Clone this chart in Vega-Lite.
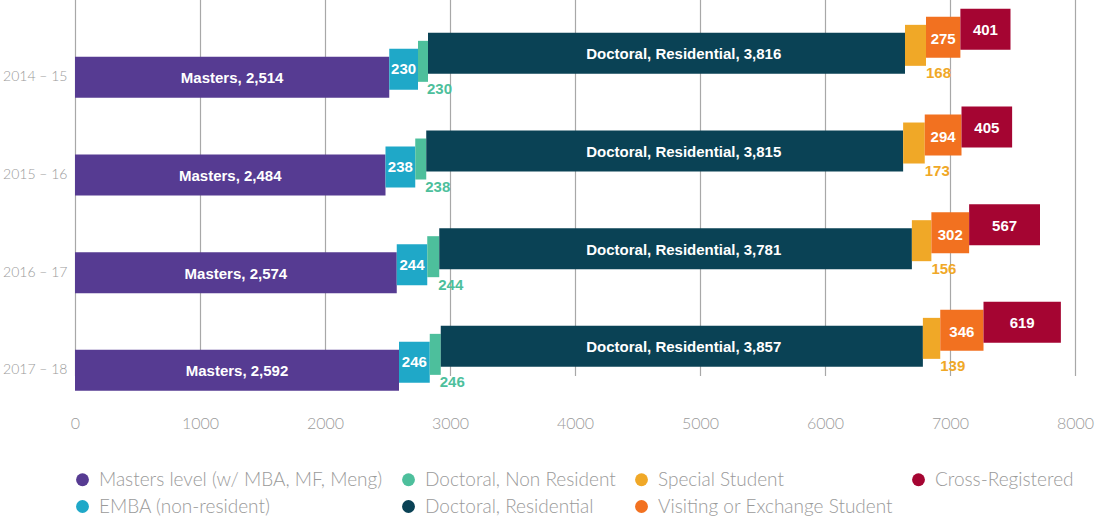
{
  "$schema": "https://vega.github.io/schema/vega-lite/v6.json",
  "width": 1000,
  "height": 390,
  "autosize": {"type": "none"},
  "padding": {"left": 75, "top": 7, "right": 26, "bottom": 122},
  "background": "white",
  "data": {"values": [
    {"year": "2014 – 15", "series": "Masters level (w/ MBA, MF, Meng)", "order": 1, "value": 2514, "label": "Masters, 2,514"},
    {"year": "2014 – 15", "series": "EMBA (non-resident)", "order": 2, "value": 230, "label": "230"},
    {"year": "2014 – 15", "series": "Doctoral, Non Resident", "order": 3, "value": 80, "label": "230"},
    {"year": "2014 – 15", "series": "Doctoral, Residential", "order": 4, "value": 3816, "label": "Doctoral, Residential, 3,816"},
    {"year": "2014 – 15", "series": "Special Student", "order": 5, "value": 168, "label": "168"},
    {"year": "2014 – 15", "series": "Visiting or Exchange Student", "order": 6, "value": 275, "label": "275"},
    {"year": "2014 – 15", "series": "Cross-Registered", "order": 7, "value": 401, "label": "401"},
    {"year": "2015 – 16", "series": "Masters level (w/ MBA, MF, Meng)", "order": 1, "value": 2484, "label": "Masters, 2,484"},
    {"year": "2015 – 16", "series": "EMBA (non-resident)", "order": 2, "value": 238, "label": "238"},
    {"year": "2015 – 16", "series": "Doctoral, Non Resident", "order": 3, "value": 88, "label": "238"},
    {"year": "2015 – 16", "series": "Doctoral, Residential", "order": 4, "value": 3815, "label": "Doctoral, Residential, 3,815"},
    {"year": "2015 – 16", "series": "Special Student", "order": 5, "value": 173, "label": "173"},
    {"year": "2015 – 16", "series": "Visiting or Exchange Student", "order": 6, "value": 294, "label": "294"},
    {"year": "2015 – 16", "series": "Cross-Registered", "order": 7, "value": 405, "label": "405"},
    {"year": "2016 – 17", "series": "Masters level (w/ MBA, MF, Meng)", "order": 1, "value": 2574, "label": "Masters, 2,574"},
    {"year": "2016 – 17", "series": "EMBA (non-resident)", "order": 2, "value": 244, "label": "244"},
    {"year": "2016 – 17", "series": "Doctoral, Non Resident", "order": 3, "value": 96, "label": "244"},
    {"year": "2016 – 17", "series": "Doctoral, Residential", "order": 4, "value": 3781, "label": "Doctoral, Residential, 3,781"},
    {"year": "2016 – 17", "series": "Special Student", "order": 5, "value": 156, "label": "156"},
    {"year": "2016 – 17", "series": "Visiting or Exchange Student", "order": 6, "value": 302, "label": "302"},
    {"year": "2016 – 17", "series": "Cross-Registered", "order": 7, "value": 567, "label": "567"},
    {"year": "2017 – 18", "series": "Masters level (w/ MBA, MF, Meng)", "order": 1, "value": 2592, "label": "Masters, 2,592"},
    {"year": "2017 – 18", "series": "EMBA (non-resident)", "order": 2, "value": 246, "label": "246"},
    {"year": "2017 – 18", "series": "Doctoral, Non Resident", "order": 3, "value": 88, "label": "246"},
    {"year": "2017 – 18", "series": "Doctoral, Residential", "order": 4, "value": 3857, "label": "Doctoral, Residential, 3,857"},
    {"year": "2017 – 18", "series": "Special Student", "order": 5, "value": 139, "label": "139"},
    {"year": "2017 – 18", "series": "Visiting or Exchange Student", "order": 6, "value": 346, "label": "346"},
    {"year": "2017 – 18", "series": "Cross-Registered", "order": 7, "value": 619, "label": "619"}
  ]},
  "transform": [
    {"stack": "value", "groupby": ["year"], "sort": [{"field": "order", "order": "ascending"}], "as": ["x0", "x1"]},
    {"fold": ["x0", "x1"], "as": ["edge", "pos"]},
    {"aggregate": [
      {"op": "min", "field": "pos", "as": "start"},
      {"op": "max", "field": "pos", "as": "end"},
      {"op": "mean", "field": "pos", "as": "mid"}
    ], "groupby": ["year", "series", "label"]}
  ],
  "encoding": {
    "y": {
      "field": "year", "type": "nominal", "title": null,
      "sort": ["2014 – 15", "2015 – 16", "2016 – 17", "2017 – 18"],
      "scale": {"range": [21.5, 412.2], "paddingInner": 0, "paddingOuter": 0}
    },
    "x": {
      "field": "start", "type": "quantitative", "title": null,
      "scale": {"domain": [0, 8000], "nice": false},
      "axis": {"values": [0, 1000, 2000, 3000, 4000, 5000, 6000, 7000, 8000], "format": "d", "labelFlush": false}
    },
    "x2": {"field": "end"},
    "color": {
      "field": "series", "type": "nominal",
      "scale": {
        "domain": ["Masters level (w/ MBA, MF, Meng)", "EMBA (non-resident)", "Doctoral, Non Resident", "Doctoral, Residential", "Special Student", "Visiting or Exchange Student", "Cross-Registered"],
        "range": ["#563b92", "#1fa8c8", "#4dbf9c", "#0a4255", "#f0a827", "#f27120", "#a50532"]
      },
      "legend": {
        "orient": "none", "legendX": -2, "legendY": 463, "columns": 4,
        "columnPadding": 16, "rowPadding": 7, "symbolType": "circle", "symbolSize": 165,
        "labelFontSize": 19, "labelFont": "Lato", "labelFontWeight": 300, "labelColor": "#9a9a9a",
        "labelOffset": 7, "title": null, "padding": 0, "labelLimit": 400, "symbolStrokeWidth": 0,
        "symbolOpacity": 1
      }
    }
  },
  "layer": [
    {"transform": [{"filter": "datum.series === 'Masters level (w/ MBA, MF, Meng)'"}], "mark": {"type": "bar", "height": 41, "yOffset": 0}},
    {"transform": [{"filter": "datum.series === 'EMBA (non-resident)'"}], "mark": {"type": "bar", "height": 41, "yOffset": -8}},
    {"transform": [{"filter": "datum.series === 'Doctoral, Non Resident'"}], "mark": {"type": "bar", "height": 41, "yOffset": -16}},
    {"transform": [{"filter": "datum.series === 'Doctoral, Residential'"}], "mark": {"type": "bar", "height": 41, "yOffset": -24}},
    {"transform": [{"filter": "datum.series === 'Special Student'"}], "mark": {"type": "bar", "height": 41, "yOffset": -32}},
    {"transform": [{"filter": "datum.series === 'Visiting or Exchange Student'"}], "mark": {"type": "bar", "height": 41, "yOffset": -40}},
    {"transform": [{"filter": "datum.series === 'Cross-Registered'"}], "mark": {"type": "bar", "height": 41, "yOffset": -48}},
    {"transform": [{"filter": "datum.series === 'Masters level (w/ MBA, MF, Meng)'"}],
     "mark": {"type": "text", "yOffset": 1, "align": "center", "baseline": "middle"},
     "encoding": {"x": {"field": "mid", "type": "quantitative", "title": null}, "x2": null, "text": {"field": "label"}, "color": {"value": "#ffffff"}}},
    {"transform": [{"filter": "datum.series === 'EMBA (non-resident)'"}],
     "mark": {"type": "text", "yOffset": -8, "align": "center", "baseline": "middle"},
     "encoding": {"x": {"field": "mid", "type": "quantitative", "title": null}, "x2": null, "text": {"field": "label"}, "color": {"value": "#ffffff"}}},
    {"transform": [{"filter": "datum.series === 'Doctoral, Non Resident'"}],
     "mark": {"type": "text", "yOffset": 12, "align": "left", "baseline": "middle", "dx": -1},
     "encoding": {"x": {"field": "end", "type": "quantitative", "title": null}, "x2": null, "text": {"field": "label"}, "color": {"value": "#4dbf9c"}}},
    {"transform": [{"filter": "datum.series === 'Doctoral, Residential'"}],
     "mark": {"type": "text", "yOffset": -23, "align": "center", "baseline": "middle"},
     "encoding": {"x": {"datum": 4870, "type": "quantitative", "title": null}, "x2": null, "text": {"field": "label"}, "color": {"value": "#ffffff"}}},
    {"transform": [{"filter": "datum.series === 'Special Student'"}],
     "mark": {"type": "text", "yOffset": -4, "align": "left", "baseline": "middle", "dx": 0},
     "encoding": {"x": {"field": "end", "type": "quantitative", "title": null}, "x2": null, "text": {"field": "label"}, "color": {"value": "#f0a827"}}},
    {"transform": [{"filter": "datum.series === 'Visiting or Exchange Student'"}],
     "mark": {"type": "text", "yOffset": -38, "align": "center", "baseline": "middle"},
     "encoding": {"x": {"field": "mid", "type": "quantitative", "title": null}, "x2": null, "text": {"field": "label"}, "color": {"value": "#ffffff"}}},
    {"transform": [{"filter": "datum.series === 'Cross-Registered'"}],
     "mark": {"type": "text", "yOffset": -47, "align": "center", "baseline": "middle"},
     "encoding": {"x": {"field": "mid", "type": "quantitative", "title": null}, "x2": null, "text": {"field": "label"}, "color": {"value": "#ffffff"}}}
  ],
  "config": {
    "view": {"stroke": null},
    "axisX": {"domain": false, "ticks": false, "grid": true, "gridColor": "#a8a8a8", "gridWidth": 1.2,
      "labelFont": "Lato", "labelFontWeight": 300, "labelFontSize": 16, "labelColor": "#9a9a9a", "labelPadding": 18},
    "axisY": {"domain": false, "ticks": false, "grid": false,
      "labelFont": "Lato", "labelFontWeight": 300, "labelFontSize": 14, "labelColor": "#9a9a9a", "labelPadding": 8},
    "text": {"font": "Liberation Sans", "fontWeight": "bold", "fontSize": 15}
  }
}
